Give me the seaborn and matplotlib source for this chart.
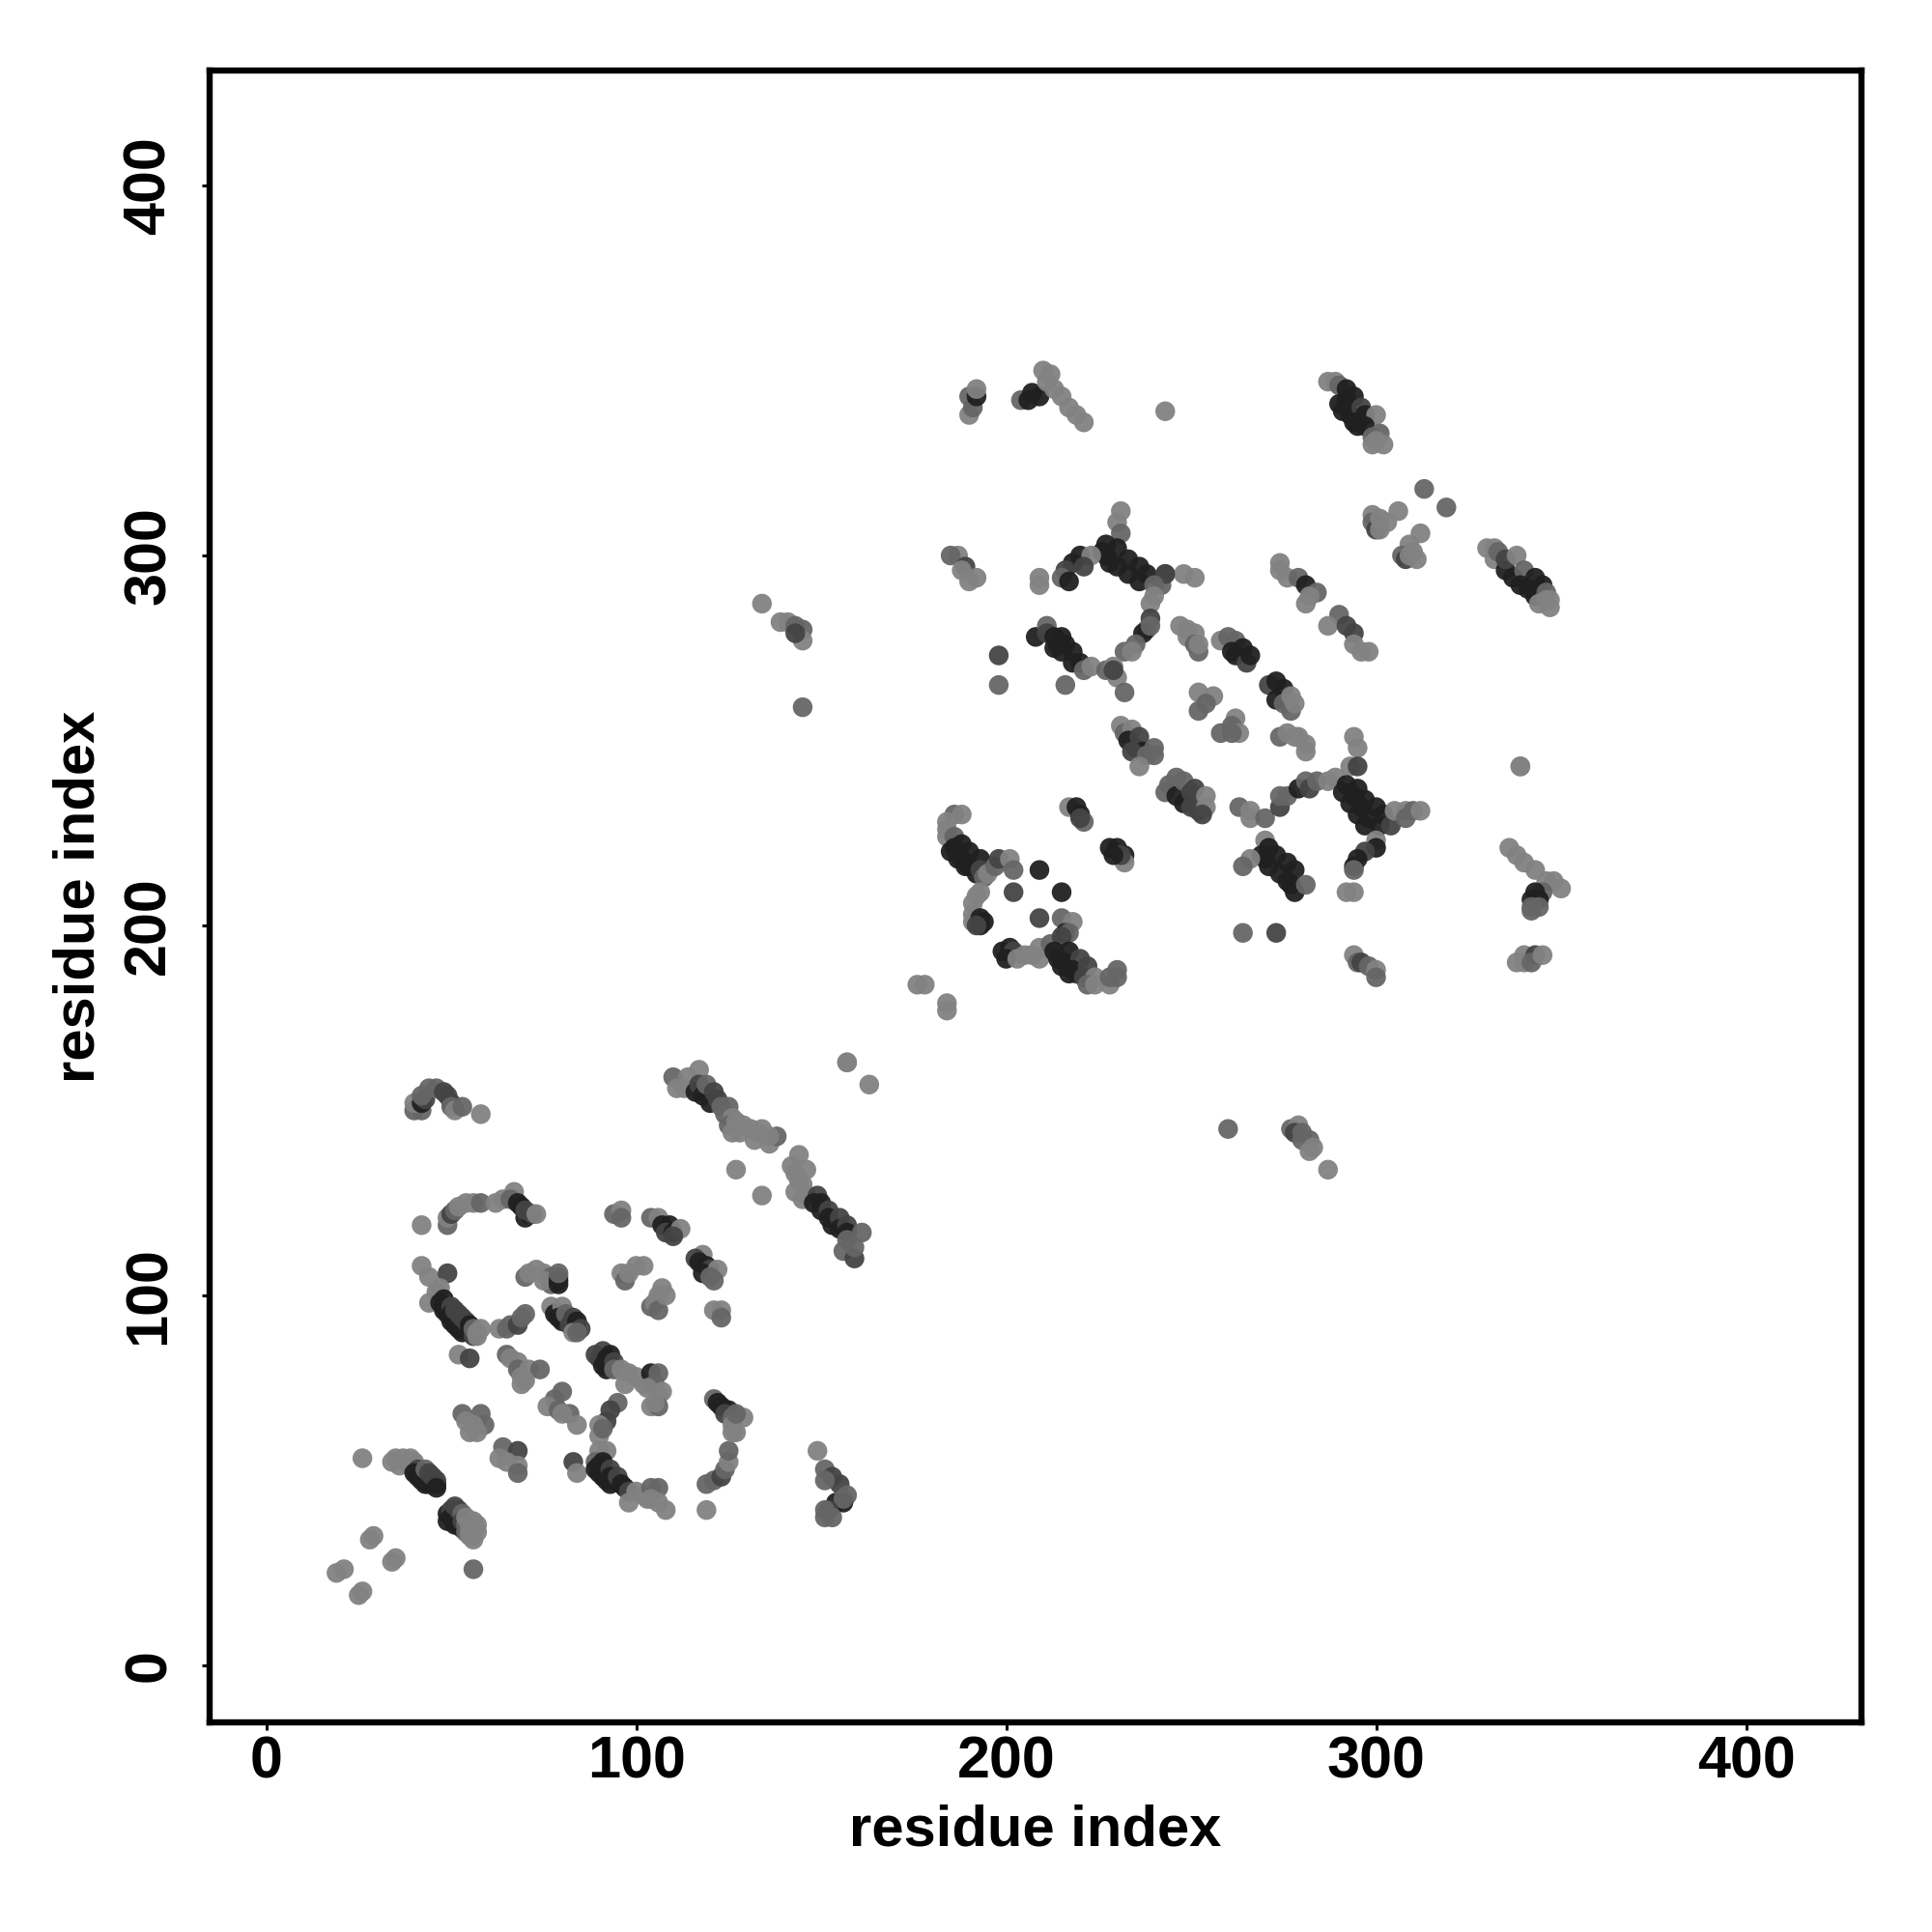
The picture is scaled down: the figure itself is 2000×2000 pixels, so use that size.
"""Contact map of residue pairs, grey level follows contact score."""

import matplotlib
matplotlib.use('Agg')
import matplotlib.pyplot as plt
import seaborn as sns
import pandas as pd

sns.set_theme(style='white')
plt.rcParams['font.family'] = ['Liberation Sans', 'DejaVu Sans']
plt.rcParams['font.weight'] = 'bold'

# each point is (residue x, residue y, score level), 0 weakest to 3 strongest
corner = [(19,25,0),(21,26,0),(25,19,0),(26,20,0),(28,34,0),(29,35,0),(34,28,0),(35,29,0),
          (56,26,1),(26,56,0)]
strand_a = [(34,55,0),(35,56,0),(36,54,0),(37,56,0),(38,55,0),(39,56,0),(39,54,0),(40,55,0),(41,53,2),
            (40,52,3),(41,51,3),(42,50,3),(43,49,3),(42,52,3),(43,50,3),(44,49,3),(43,53,1),(44,52,2),(45,51,2),
            (46,49,3),(46,50,2),(46,48,3)]
strand_b = [(49,41,3),(49,39,3),(50,42,2),(50,40,3),(51,43,2),(51,39,3),(51,38,3),(52,42,2),(52,38,3),(53,37,3),
            (53,41,1),(53,39,2),(54,38,1),(54,36,1),(54,40,0),(55,38,0),(55,36,0),(56,39,0),(56,37,0),(56,35,0),
            (57,38,0),(57,36,0),(56,34,0),(55,35,0)]
top_arch = [(40,150,1),(42,150,1),(40,152,0),(42,152,3),(43,153,2),(42,154,1),(44,156,1),(46,156,1),
            (48,155,2),(49,154,2),(50,152,2),(50,151,1),(51,150,0),(53,151,1),(58,149,0)]
arc_b = [(42,119,0),(49,119,1),(49,121,0),(50,122,2),(51,123,1),(52,124,0),(54,125,0),(56,125,0),(58,125,1),
         (62,125,0),(64,126,0),(67,128,0),(66,126,1),(68,125,3),(69,124,3),(71,122,3),(70,121,3),(70,123,2),
         (72,122,2),(73,122,0)]
hook_c = [(42,108,0),(44,105,0),(49,106,2),(46,101,0),(44,98,0),(47,102,0),(47,98,3),(48,96,3),(49,95,3),(50,93,3),
          (51,92,3),(52,91,3),(53,90,3),(48,99,3),(48,97,3),(49,96,3),(50,97,2),(50,95,3),(51,94,3),(51,96,2),
          (52,93,3),(52,95,2),(53,92,3),(53,94,2),(54,91,3),(54,93,2),(55,90,3),(55,92,3),(56,89,2),(56,91,1),
          (57,90,0),(58,91,0),(57,89,0),(63,91,0),(65,91,1),(66,92,1),(68,92,2),(70,95,1),(69,94,1),(52,84,0),(55,83,2)]
arc_d = [(70,105,1),(71,106,0),(73,107,0),(75,106,0),(77,105,1),(77,103,1),(75,104,0),(79,105,1),(79,103,3),
         (79,104,3),(79,106,1)]
strand_e = [(77,97,0),(78,95,3),(80,97,0),(79,94,3),(80,93,3),(81,95,1),(82,92,2),(83,94,2),(84,93,3),
            (83,90,0),(85,91,2),(84,90,1)]
strand_f = [(89,84,2),(91,85,2),(90,83,2),(92,83,3),(93,84,3),(92,80,3),(91,81,3),(94,82,2),(94,80,1),(96,80,0),
            (98,79,0),(97,76,0),(100,78,0),(102,76,0),(104,79,3),(106,79,1),(105,76,1),(103,75,0),(106,73,0),
            (107,74,0),(104,70,0),(106,70,1),(105,71,0)]
patch_g = [(65,84,1),(66,83,0),(68,82,0),(68,80,1),(69,78,0),(71,80,0),(74,80,1),(69,76,0),(70,77,0)]
patch_h = [(80,74,1),(78,72,1),(76,70,0),(79,69,1),(82,68,1),(84,65,0),(80,68,0)]
hook_i = [(95,71,1),(93,69,2),(92,66,2),(90,65,0),(90,62,0),(91,64,1)]
patch_low = [(53,68,1),(58,68,1),(59,65,1),(56,65,0),(55,63,0),(57,63,0),(54,66,0),
             (64,59,1),(63,56,0),(68,58,2),(65,55,0),(68,54,0),(68,52,1)]
pair_low = [(83,55,2),(84,52,0)]
strand_j = [(90,58,0),(92,58,0),(89,55,1),(89,53,3),(90,52,3),(91,51,3),(92,50,3),(93,49,3),(90,54,3),(91,55,3),
            (92,52,3),(93,53,2),(93,51,3),(94,50,3),(95,51,2),(96,49,3),(97,48,3),(98,47,2),(98,44,0),(100,47,0),
            (102,46,0),(103,45,0),(104,48,1),(106,48,1),(104,45,0),(106,44,0),(108,42,0),(119,42,0)]
arc_k = [(119,49,1),(121,50,1),(123,51,2),(124,53,1),(125,55,0),(125,58,1)]
hook_l = [(121,72,1),(122,71,3),(123,70,3),(125,69,3),(124,68,2),(126,67,1),(129,67,0),(126,63,0),(127,63,0),
          (126,65,0),(127,68,1)]
pair_m = [(121,96,0),(123,96,0),(123,94,1)]
strand_n = [(118,111,0),(116,110,2),(117,109,3),(119,108,3),(120,107,2),(118,106,3),(122,107,0),(120,105,1),
            (121,104,1)]
arc_o = [(94,122,1),(96,123,0),(96,121,1),(104,121,1),(106,121,0),(107,119,3),(109,119,3),(108,117,2),
         (110,117,3),(112,118,0),(110,116,2)]
patch_p = [(96,106,0),(97,104,1),(98,106,0),(100,108,0),(102,108,0),(104,97,1),(105,98,0),(106,100,0),
           (106,96,1),(107,102,0),(108,100,0)]
strand_q = [(110,159,1),(111,156,0),(114,159,0),(113,156,0),(117,161,0),(116,155,3),(117,157,2),(118,154,3),
            (119,157,1),(120,152,3),(121,155,2),(122,153,2),(123,151,1),(124,149,1),(125,151,1),(126,148,0),
            (125,146,1),(127,147,0),(129,146,0),(126,144,0),(128,144,0),(131,145,0),(133,144,0),(134,145,0),
            (132,142,0),(136,141,0),(138,143,1),(136,143,0),(157,163,0),(163,157,0)]
pair_q = [(127,134,0),(134,127,0)]
strand_r = [(144,138,0),(142,135,0),(143,133,0),(146,134,0),(144,131,0),(145,130,0),(143,128,0),(145,126,0),
            (146,127,0),(149,127,2),(148,125,3),(150,125,3),(150,123,3),(152,123,2),(152,121,3),(153,119,3),
            (155,121,2),(155,118,3),(157,119,2),(157,117,3),(156,112,1),(157,115,1),(159,110,2),(159,113,1),
            (161,117,1)]
corner_s = [(149,58,0),(151,53,1),(153,51,2),(155,49,2),(151,50,1),(157,46,1),(156,44,3),(154,44,3),(156,45,1),
            (152,42,2),(151,42,1),(151,40,1),(153,40,1)]
# second half of the map
wing_t = [(186,230,1),(188,230,0),(184,228,0),(184,226,0),(184,224,0),(186,224,1),(188,222,3),(186,221,3),
          (185,220,3),(187,218,3),(189,216,3),(190,220,3),(188,218,3),(193,218,3),(190,216,3),(192,214,3),(193,215,2),
          (194,213,1),(195,214,0),(197,216,1),(198,218,2),(201,218,0),(202,215,1),(209,215,3),(215,209,3),(202,209,2),
          (209,202,2),(215,202,1)]
wing_down = [(193,209,0),(192,208,0),(191,206,0),(191,203,0),(191,201,0),(193,200,3),(193,202,3),(194,201,3),
             (192,200,2)]
wing_u = [(199,193,3),(201,194,3),(202,193,2),(200,191,3),(203,191,0),(205,192,0),(207,192,0),(209,194,0),
          (209,191,0),(212,195,1),(218,201,0),(216,198,3),(217,198,1),(215,197,2)]
wing_strand = [(213,193,3),(217,193,3),(214,191,3),(216,190,3),(215,189,3),(217,187,3),(220,191,2),(219,187,3),
               (218,188,3),(222,189,2),(221,186,2),(224,186,0),(222,184,1),(224,184,0),(228,184,0),(228,186,1),
               (230,188,1),(230,186,1)]
pair_u = [(176,184,0),(178,184,0),(184,179,0),(184,177,0)]
block_v = [(217,232,0),(219,232,3),(220,230,3),(221,228,1),(220,229,2),(228,221,3),(230,221,3),(232,219,3),
           (232,217,0),(231,219,2),(229,219,3)]
singles = [(264,198,1),(273,198,2),(260,145,1),(287,134,0),(243,339,0),(339,243,0),(198,273,2),(198,265,1)]
tail_w = [(277,145,1),(279,146,0),(278,144,2),(280,144,1),(280,142,1),(282,142,1),(283,140,0),(282,139,0)]
strand_x = [(231,254,0),(232,252,1),(234,253,0),(233,250,3),(235,248,3),(236,251,2),(237,247,3),(234,247,2),
            (238,246,1),(240,248,1),(240,246,1),(236,243,0)]
strand_y = [(243,236,1),(244,238,1),(246,240,1),(246,235,3),(248,239,1),(248,233,3),(250,236,2),(250,232,2),
            (251,237,2),(252,231,2),(254,235,0),(254,232,0),(253,230,2)]
ring_z = [(263,232,1),(266,231,0),(266,229,0),(270,229,1),(274,232,2),(274,235,1),(276,235,1),(279,237,3),
          (281,239,1),(282,237,2),(284,239,1),(287,239,0),(289,240,0)]
strand_z = [(270,223,0),(271,221,3),(270,218,3),(269,219,3),(273,219,3),(271,216,3),(274,214,3),(276,217,3),
            (278,215,3),(276,212,3),(278,209,3),(277,211,3),(281,211,1),(266,218,0),(264,216,1)]
strand_aa = [(294,251,0),(295,248,0),(293,243,0),(295,243,2),(292,238,3),(291,236,3),(295,237,3),(294,235,3),
             (293,233,3),(297,234,3),(296,232,3),(295,230,3),(300,232,3),(298,229,3),(297,227,3),(302,230,3),
             (301,227,3),(304,227,2),(305,231,0),(308,231,0),(308,229,1),(310,231,1),(312,231,0),(300,223,0),
             (300,221,3),(297,220,2),(295,218,3),(294,216,3),(294,215,1),(292,209,0),(294,209,0)]
end_aa = [(339,243,0),(336,221,0),(338,219,0),(340,217,0),(343,215,0),(346,212,0),(348,212,0),(350,210,0),
          (345,209,1),(343,209,3),(342,207,3),(344,207,3),(342,205,1),(344,205,1),(342,204,1)]
foot_aa = [(294,192,0),(295,190,1),(296,190,2),(298,189,1),(300,188,0),(300,186,1),(338,190,0),(340,192,0),
           (340,190,0),(343,192,2),(342,190,1),(345,192,0)]
band_up = [(274,298,0),(274,296,0),(276,294,0),(279,294,1),(281,292,3),(284,290,1),(282,289,0),(281,287,0),
           (290,284,1),(287,281,0),(292,281,2),(294,279,2),(294,276,0),(296,274,0),(298,274,0)]
cluster_up = [(299,311,0),(299,309,1),(300,307,2),(301,310,0),(303,309,0),(301,307,0),(306,312,0),(313,318,1),
              (319,313,1),(312,306,0),(309,303,0),(307,300,1),(308,299,2),(311,299,0),(309,300,0),(310,301,0)]
strand_bb = [(330,302,0),(332,302,0),(332,299,0),(333,301,1),(335,296,3),(335,299,2),(338,300,0),(337,294,3),
             (340,296,1),(339,292,3),(343,294,3),(341,291,3),(343,289,3),(345,292,3),(346,290,1),(346,288,0),
             (344,287,0),(347,286,0),(347,288,0)]
pair_up = [(243,295,2),(242,292,1),(248,295,0),(251,294,0)]
band_mid = [(247,281,0),(249,280,0),(249,278,0),(251,279,0),(251,276,1),(252,274,1),(252,276,0)]
strand_mid = [(258,277,0),(260,278,1),(262,277,1),(261,274,3),(262,273,3),(264,275,3),(265,271,2),(266,273,3)]
strand_mid2 = [(271,265,2),(273,266,3),(275,264,3),(273,261,3),(275,260,1),(277,258,1),(277,262,0),(278,260,0)]
patch_mid = [(252,263,0),(256,262,0),(254,260,1),(252,258,1),(262,256,0),(261,254,1),(258,252,1),(263,252,0),
             (261,252,1)]
band_low = [(274,251,1),(276,252,0),(278,251,0),(279,251,0),(281,249,0),(281,247,0)]
top_left = [(190,338,0),(191,340,1),(190,343,1),(192,343,3),(192,345,0),(204,342,1),(206,342,3),(207,344,3),
            (209,343,3),(210,350,0),(212,349,0),(211,347,0),(213,345,0),(215,343,0),(217,340,0),(219,338,0),
            (221,336,0)]
top_right = [(287,347,0),(289,347,0),(290,346,1),(292,345,3),(294,343,3),(290,341,3),(292,342,3),(291,339,3),
             (293,338,3),(296,340,2),(295,335,3),(294,336,3),(297,338,3),(300,338,0),(297,335,3),(299,332,1),
             (301,333,1),(300,331,0),(302,330,0),(299,330,0)]
diamond_top = [(231,312,0),(230,309,0),(231,306,1),(227,303,3),(230,302,3),(226,301,3),(227,300,3),(233,299,3),
               (228,298,3),(230,297,3),(236,297,3),(233,295,3),(238,295,3),(236,293,3),(243,295,2),(240,292,1),
               (240,289,0),(239,287,0),(239,283,2),(238,280,1),(237,279,3),(239,281,1),(235,276,1),(232,274,1),
               (234,274,0)]
diamond_left = [(220,300,3),(223,300,0),(218,298,3),(221,297,2),(216,296,2),(215,294,1),(217,293,3),(209,294,0),
                (209,292,0),(187,300,0),(185,300,1),(189,297,2),(188,296,0),(192,294,0),(190,293,0)]
diamond_low = [(208,278,3),(211,281,1),(211,279,2),(213,278,3),(215,278,3),(214,276,3),(216,276,3),(215,274,3),
               (213,275,3),(218,274,3),(220,271,3),(218,271,3),(221,269,1),(223,270,0),(227,269,1),(229,270,0),
               (230,267,0),(216,265,1),(232,263,1),(229,269,2)]
left_up = [(134,287,0),(139,282,0),(141,282,0),(143,281,1),(145,280,1),(145,277,0),(143,279,2),(145,259,1)]
mid_right = [(157,163,0)]

clusters = [corner, strand_a, strand_b, top_arch, arc_b, hook_c, arc_d, strand_e, strand_f, patch_g, patch_h,
            hook_i, patch_low, pair_low, strand_j, arc_k, hook_l, pair_m, strand_n, arc_o, patch_p, strand_q,
            pair_q, strand_r, corner_s, wing_t, wing_down, wing_u, wing_strand, pair_u, block_v, singles, tail_w,
            strand_x, strand_y, ring_z, strand_z, strand_aa, end_aa, foot_aa, band_up, cluster_up, strand_bb,
            pair_up, band_mid, strand_mid, strand_mid2, patch_mid, band_low, top_left, top_right, diamond_top,
            diamond_left, diamond_low, left_up, mid_right]

tick_values = [0, 100, 200, 300, 400]

points = pd.DataFrame([p for c in clusters for p in c], columns=['x', 'y', 'score'])

fig = plt.figure(figsize=(10, 10), dpi=200)
ax = fig.add_axes([217 / 2000, 217 / 2000, 1710 / 2000, 1710 / 2000])

sns.scatterplot(data=points, x='x', y='y', hue='score', palette={0: '#828282', 1: '#666666', 2: '#444444', 3: '#202020'},
                s=54, linewidth=0, alpha=0.95, legend=False, ax=ax)

ax.set_xlim(-15.3, 431.2)
ax.set_ylim(-15.4, 431.1)
ax.set_xticks(tick_values)
ax.set_yticks(tick_values)
ax.tick_params(axis='x', length=3, width=1.1, color='black', labelsize=22, labelcolor='black', pad=2, bottom=True)
ax.tick_params(axis='y', length=3, width=1.1, color='black', labelsize=22, labelcolor='black', pad=9, left=True)
for lab in ax.get_yticklabels():
    lab.set_rotation(90)
    lab.set_va('center')
for spine in ax.spines.values():
    spine.set_linewidth(2.3)
    spine.set_color('black')
ax.set_xlabel('residue index', fontsize=21.5, fontweight='bold', color='black', labelpad=5)
ax.set_ylabel('residue index', fontsize=21.5, fontweight='bold', color='black', labelpad=6)

fig.savefig('out.png', dpi=200)
